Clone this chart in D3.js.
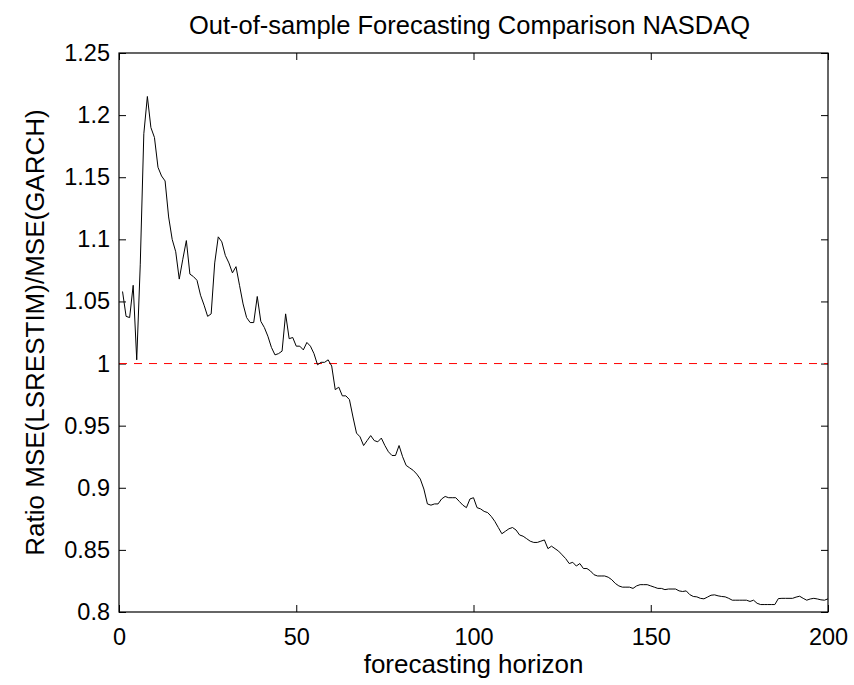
<!DOCTYPE html>
<html>
<head>
<meta charset="utf-8">
<script src="https://cdn.jsdelivr.net/npm/d3@7"></script>
<style>
  body { margin: 0; background: #fff; }
  text { font-family: "Liberation Sans", Arial, Helvetica, sans-serif; }
</style>
</head>
<body>
<div id="viz"></div>
<script>
// chart size
let width = 854
let height = 685
let margin = {top: 53, right: 26, bottom: 73, left: 119}

// forecasting horizon 1..200, ratio
let horizon = d3.range(1, 201)
let ratio = [
  1.058, 1.038, 1.037, 1.063, 1.003, 1.080, 1.185, 1.215, 1.190, 1.182,
  1.158, 1.151, 1.147, 1.118, 1.100, 1.090, 1.068, 1.084, 1.099, 1.072,
  1.070, 1.067, 1.055, 1.047, 1.038, 1.040, 1.081, 1.102, 1.098, 1.087,
  1.081, 1.073, 1.078, 1.063, 1.048, 1.037, 1.033, 1.033, 1.054, 1.034,
  1.029, 1.022, 1.013, 1.007, 1.008, 1.010, 1.040, 1.020, 1.021, 1.014,
  1.014, 1.011, 1.017, 1.014, 1.008, 0.999, 1.001, 1.001, 1.003, 0.998,
  0.979, 0.981, 0.974, 0.974, 0.971, 0.957, 0.944, 0.941, 0.934, 0.938,
  0.942, 0.938, 0.937, 0.940, 0.934, 0.929, 0.926, 0.926, 0.934, 0.925,
  0.918, 0.916, 0.914, 0.911, 0.907, 0.899, 0.887, 0.886, 0.887, 0.887,
  0.891, 0.893, 0.892, 0.892, 0.892, 0.889, 0.886, 0.884, 0.891, 0.892,
  0.884, 0.883, 0.881, 0.880, 0.877, 0.873, 0.868, 0.863, 0.865, 0.867,
  0.868, 0.866, 0.862, 0.861, 0.859, 0.857, 0.856, 0.856, 0.857, 0.858,
  0.851, 0.853, 0.851, 0.849, 0.846, 0.843, 0.839, 0.840, 0.837, 0.839,
  0.835, 0.835, 0.833, 0.830, 0.829, 0.829, 0.829, 0.828, 0.826, 0.823,
  0.821, 0.820, 0.820, 0.820, 0.819, 0.821, 0.822, 0.822, 0.822, 0.821,
  0.820, 0.819, 0.819, 0.818, 0.8185, 0.8185, 0.8185, 0.817, 0.8165, 0.817,
  0.814, 0.8125, 0.8122, 0.811, 0.8106, 0.812, 0.8135, 0.8138, 0.813, 0.8125,
  0.8122, 0.811, 0.8095, 0.8095, 0.8095, 0.8095, 0.8095, 0.8085, 0.8095, 0.807,
  0.806, 0.806, 0.806, 0.806, 0.806, 0.8108, 0.811, 0.811, 0.811, 0.811,
  0.812, 0.8127, 0.811, 0.8095, 0.8105, 0.811, 0.8105, 0.8098, 0.8095, 0.8106
]
let xTicks = [0, 50, 100, 150, 200]
let yTicks = [0.8, 0.85, 0.9, 0.95, 1, 1.05, 1.1, 1.15, 1.2, 1.25]
let baseline = 1

let titleText = "Out-of-sample Forecasting Comparison NASDAQ"
let xLabelText = "forecasting horizon"
let yLabelText = "Ratio MSE(LSRESTIM)/MSE(GARCH)"

let tickFont = 23.5
let labelFont = 26
let titleFont = 25.5
let tickLen = 7

let svg = d3.select('#viz').append('svg').attr("width", width).attr("height", height)

let x = d3.scaleLinear().domain([0, 200]).range([margin.left, width - margin.right])
let y = d3.scaleLinear().domain([0.8, 1.25]).range([height - margin.bottom, margin.top])

let x0 = x.range()[0], x1 = x.range()[1]
let y0 = y.range()[0], y1 = y.range()[1]

//Axes: bottom/left with labels, top/right ticks only, ticks point inward
let fmtY = d => d3.format("")(+d.toFixed(2))

svg.append("g").attr("transform", `translate(0,${y0})`)
  .call(d3.axisBottom(x).tickValues(xTicks).tickSizeInner(-tickLen).tickSizeOuter(0).tickPadding(16))
  .call(g => g.select(".domain").remove())
svg.append("g").attr("transform", `translate(0,${y1})`)
  .call(d3.axisTop(x).tickValues(xTicks).tickSizeInner(-tickLen).tickSizeOuter(0).tickFormat(""))
  .call(g => g.select(".domain").remove())
svg.append("g").attr("transform", `translate(${x0},0)`)
  .call(d3.axisLeft(y).tickValues(yTicks).tickFormat(fmtY).tickSizeInner(-tickLen).tickSizeOuter(0).tickPadding(9))
  .call(g => g.select(".domain").remove())
svg.append("g").attr("transform", `translate(${x1},0)`)
  .call(d3.axisRight(y).tickValues(yTicks).tickSizeInner(-tickLen).tickSizeOuter(0).tickFormat(""))
  .call(g => g.select(".domain").remove())

svg.selectAll(".tick line").attr("stroke", "#000").attr("stroke-width", 1)
svg.selectAll(".tick text").attr("font-size", tickFont).attr("fill", "#000")
  .attr("font-family", "Liberation Sans, Arial, sans-serif")

//Reference line at ratio = 1
svg.append("line").attr("x1", x0).attr("x2", x1).attr("y1", y(baseline)).attr("y2", y(baseline))
  .attr("stroke", "#ff0000").attr("stroke-width", 1).attr("stroke-dasharray", "8,7")

//Ratio curve
let line = d3.line().x((d, i) => x(horizon[i])).y(d => y(d))
svg.append("path").datum(ratio).attr("d", line)
  .attr("fill", "none").attr("stroke", "#000").attr("stroke-width", 1)

//Box
svg.append("rect").attr("x", x0).attr("y", y1).attr("width", x1 - x0).attr("height", y0 - y1)
  .attr("fill", "none").attr("stroke", "#000").attr("stroke-width", 1.2)

//Texts
svg.append("text").text(titleText).attr("text-anchor", "middle")
  .attr("x", (x0 + x1) / 2 - 4).attr("y", 34).attr("font-size", titleFont).attr("fill", "#000")
svg.append("text").text(xLabelText).attr("text-anchor", "middle")
  .attr("x", (x0 + x1) / 2).attr("y", 673).attr("font-size", labelFont).attr("fill", "#000")
svg.append("text").text(yLabelText).attr("text-anchor", "middle")
  .attr("transform", `translate(44,${(y0 + y1) / 2}) rotate(-90)`)
  .attr("font-size", labelFont).attr("fill", "#000")
</script>
</body>
</html>
